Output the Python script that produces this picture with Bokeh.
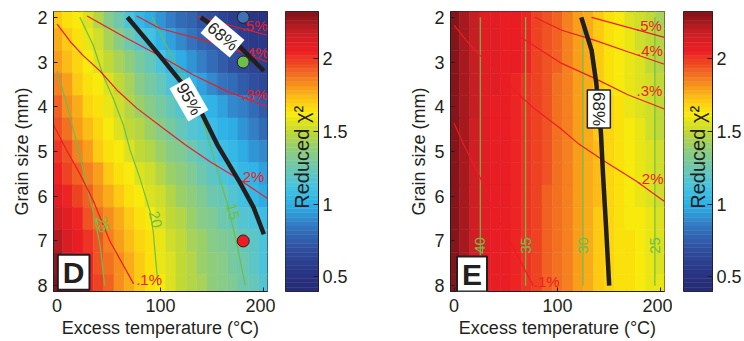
import numpy as np
from bokeh.plotting import figure
from bokeh.models import Range1d, ColumnDataSource, Label
from bokeh.transform import linear_cmap
from bokeh.layouts import row
from bokeh.embed import file_html
from bokeh.resources import INLINE
from bokeh.core.properties import value

# ---------------- data ----------------
TEMP = [0, 10, 20, 30, 40, 50, 60, 70, 80, 90, 100, 110, 120, 130, 140, 150, 160, 170, 180, 190, 200]
GRAIN = [2.0, 2.5, 3.0, 3.5, 4.0, 4.5, 5.0, 5.5, 6.0, 6.5, 7.0, 7.5, 8.0]

CHI2_D = [
    [1.70, 1.66, 1.61, 1.54, 1.45, 1.35, 1.24, 1.12, 1.04, 0.97, 0.91, 0.86, 0.81, 0.76, 0.71, 0.67, 0.63, 0.59, 0.56, 0.53, 0.50],
    [1.75, 1.70, 1.64, 1.58, 1.51, 1.43, 1.34, 1.25, 1.16, 1.09, 1.02, 0.95, 0.89, 0.84, 0.78, 0.73, 0.69, 0.65, 0.61, 0.58, 0.55],
    [1.80, 1.73, 1.67, 1.62, 1.56, 1.50, 1.44, 1.37, 1.29, 1.21, 1.13, 1.05, 0.98, 0.92, 0.86, 0.80, 0.75, 0.70, 0.66, 0.62, 0.59],
    [1.85, 1.78, 1.71, 1.65, 1.60, 1.54, 1.48, 1.42, 1.35, 1.28, 1.21, 1.14, 1.07, 1.01, 0.95, 0.90, 0.84, 0.79, 0.74, 0.70, 0.66],
    [1.90, 1.82, 1.75, 1.68, 1.63, 1.58, 1.52, 1.46, 1.40, 1.34, 1.28, 1.22, 1.16, 1.10, 1.05, 1.00, 0.95, 0.90, 0.85, 0.80, 0.75],
    [1.95, 1.87, 1.80, 1.73, 1.67, 1.62, 1.56, 1.50, 1.45, 1.40, 1.34, 1.29, 1.23, 1.17, 1.12, 1.07, 1.02, 0.97, 0.92, 0.87, 0.82],
    [2.00, 1.93, 1.86, 1.78, 1.71, 1.65, 1.60, 1.55, 1.50, 1.45, 1.40, 1.35, 1.30, 1.25, 1.19, 1.13, 1.08, 1.03, 0.98, 0.93, 0.88],
    [2.04, 1.98, 1.92, 1.85, 1.78, 1.71, 1.66, 1.61, 1.56, 1.51, 1.46, 1.41, 1.36, 1.31, 1.26, 1.20, 1.15, 1.10, 1.05, 1.00, 0.94],
    [2.08, 2.03, 1.97, 1.90, 1.83, 1.77, 1.71, 1.66, 1.61, 1.56, 1.51, 1.46, 1.41, 1.36, 1.31, 1.26, 1.21, 1.16, 1.11, 1.05, 0.98],
    [2.14, 2.08, 2.02, 1.95, 1.88, 1.82, 1.76, 1.70, 1.65, 1.60, 1.55, 1.50, 1.45, 1.40, 1.35, 1.31, 1.26, 1.22, 1.17, 1.12, 1.06],
    [2.20, 2.12, 2.06, 2.00, 1.93, 1.86, 1.80, 1.74, 1.68, 1.63, 1.58, 1.53, 1.48, 1.43, 1.39, 1.35, 1.31, 1.27, 1.23, 1.18, 1.12],
    [2.26, 2.16, 2.09, 2.02, 1.95, 1.88, 1.82, 1.76, 1.70, 1.64, 1.59, 1.54, 1.49, 1.45, 1.41, 1.37, 1.33, 1.29, 1.25, 1.20, 1.15],
    [2.30, 2.20, 2.11, 2.04, 1.97, 1.90, 1.83, 1.77, 1.71, 1.65, 1.60, 1.55, 1.50, 1.46, 1.42, 1.38, 1.34, 1.30, 1.26, 1.21, 1.16],
]

CHI2_E = [
    [2.32, 2.25, 2.18, 2.10, 2.08, 2.07, 2.05, 2.02, 1.98, 1.94, 1.90, 1.86, 1.80, 1.75, 1.70, 1.65, 1.60, 1.56, 1.52, 1.48, 1.44],
    [2.32, 2.25, 2.17, 2.10, 2.08, 2.07, 2.05, 2.02, 1.98, 1.94, 1.90, 1.85, 1.80, 1.75, 1.70, 1.65, 1.61, 1.57, 1.53, 1.49, 1.45],
    [2.31, 2.24, 2.17, 2.10, 2.08, 2.06, 2.05, 2.02, 1.98, 1.94, 1.90, 1.85, 1.80, 1.75, 1.70, 1.66, 1.62, 1.58, 1.54, 1.50, 1.47],
    [2.31, 2.24, 2.17, 2.10, 2.08, 2.06, 2.04, 2.01, 1.97, 1.93, 1.89, 1.85, 1.80, 1.75, 1.71, 1.66, 1.62, 1.58, 1.55, 1.51, 1.48],
    [2.31, 2.24, 2.17, 2.10, 2.07, 2.06, 2.04, 2.01, 1.97, 1.93, 1.89, 1.85, 1.80, 1.76, 1.71, 1.67, 1.63, 1.59, 1.56, 1.52, 1.49],
    [2.31, 2.24, 2.16, 2.10, 2.07, 2.06, 2.04, 2.01, 1.97, 1.93, 1.89, 1.84, 1.80, 1.76, 1.71, 1.67, 1.63, 1.60, 1.57, 1.53, 1.50],
    [2.30, 2.24, 2.16, 2.09, 2.07, 2.05, 2.04, 2.01, 1.97, 1.93, 1.89, 1.84, 1.80, 1.76, 1.72, 1.68, 1.64, 1.61, 1.58, 1.54, 1.51],
    [2.30, 2.24, 2.16, 2.09, 2.07, 2.05, 2.04, 2.01, 1.97, 1.93, 1.89, 1.84, 1.80, 1.76, 1.72, 1.68, 1.64, 1.61, 1.58, 1.55, 1.52],
    [2.30, 2.24, 2.16, 2.09, 2.07, 2.05, 2.03, 2.00, 1.96, 1.92, 1.88, 1.84, 1.80, 1.76, 1.72, 1.68, 1.65, 1.62, 1.59, 1.56, 1.53],
    [2.30, 2.24, 2.16, 2.09, 2.07, 2.05, 2.03, 2.00, 1.96, 1.92, 1.88, 1.84, 1.79, 1.75, 1.71, 1.68, 1.65, 1.62, 1.60, 1.57, 1.54],
    [2.30, 2.24, 2.16, 2.08, 2.06, 2.05, 2.03, 2.00, 1.96, 1.92, 1.88, 1.84, 1.79, 1.75, 1.71, 1.68, 1.65, 1.63, 1.60, 1.58, 1.55],
    [2.30, 2.24, 2.16, 2.08, 2.06, 2.05, 2.03, 2.00, 1.96, 1.92, 1.88, 1.84, 1.79, 1.75, 1.71, 1.68, 1.65, 1.63, 1.61, 1.58, 1.56],
    [2.30, 2.24, 2.16, 2.08, 2.06, 2.05, 2.03, 2.00, 1.96, 1.92, 1.88, 1.84, 1.79, 1.75, 1.71, 1.68, 1.65, 1.63, 1.61, 1.59, 1.57],
]

CB_LOW, CB_HIGH = 0.4, 2.32
CB_TICKS = [0.5, 1, 1.5, 2]
CB_TICK_LABELS = ["0.5", "1", "1.5", "2"]
X_TICKS = [0, 100, 200]
Y_TICKS = [2, 3, 4, 5, 6, 7, 8]

# ---- panel D contours ----
D_P1_T = [-3.5, 8, 22, 35, 51, 74];  D_P1_G = [4.40, 4.92, 5.50, 6.10, 7.00, 7.96]
D_P2_T = [0, 12.6, 25, 41.5, 58, 77, 102, 124, 148, 174, 203.5]
D_P2_G = [2.15, 2.54, 2.85, 3.20, 3.63, 4.03, 4.47, 4.85, 5.23, 5.59, 6.05]
D_P3_T = [29, 66, 104, 131, 164, 203.5];  D_P3_G = [1.97, 2.45, 2.92, 3.28, 3.65, 4.00]
D_P4_T = [77, 99.5, 148, 175, 203.5];     D_P4_G = [1.97, 2.25, 2.55, 2.75, 3.00]
D_P5_T = [135, 170, 203.5];               D_P5_G = [1.97, 2.20, 2.40]
D_PCT_T = [89, 188, 191, 192, 191];  D_PCT_G = [7.87, 5.56, 3.72, 2.78, 2.18]
D_PCT_TEXT = [".1%", ".2%", ".3%", ".4%", ".5%"]

D_G25_T = [0, 10, 20, 29, 35, 41.5, 46];  D_G25_G = [3.20, 4.00, 4.90, 5.80, 6.35, 7.08, 8.00]
D_G20_T = [22, 35, 44.6, 54, 64, 70.5, 80, 90, 93, 97.6]
D_G20_G = [2.00, 2.63, 3.30, 3.80, 4.40, 4.96, 5.59, 6.35, 6.80, 8.00]
D_G15_T = [92, 116, 138, 148, 157, 165, 174, 182]
D_G15_G = [2.00, 3.10, 4.08, 4.85, 5.59, 6.19, 7.08, 8.00]
D_GREEN_T = [44, 95, 170];  D_GREEN_G = [6.63, 6.52, 6.34];  D_GREEN_TEXT = ["25", "20", "15"]

D_C95_T = [68, 100, 120, 140, 155, 177, 190, 200]
D_C95_G = [2.00, 2.88, 3.45, 4.15, 4.85, 5.70, 6.25, 6.85]
D_C68_T = [139, 170, 200];  D_C68_G = [2.00, 2.50, 3.20]

D_PTS_T = [180, 180, 180];  D_PTS_G = [2, 3, 7]

# ---- panel E contours ----
E_P1_T = [0, 9.3, 25.3, 38.2, 60.6, 76.6];  E_P1_G = [4.37, 4.85, 5.59, 6.33, 7.30, 8.00]
E_P2_T = [0, 12.6, 25, 41.5, 58, 77, 102, 121, 147, 176, 203.5]
E_P2_G = [2.18, 2.54, 2.85, 3.20, 3.63, 4.03, 4.47, 4.84, 5.24, 5.66, 6.12]
E_P3_T = [28, 66, 104, 135.6, 168, 203.5];  E_P3_G = [2.00, 2.47, 3.03, 3.36, 3.73, 4.05]
E_P4_T = [78, 104, 135.6, 168, 203.5];      E_P4_G = [2.00, 2.29, 2.51, 2.77, 3.05]
E_P5_T = [133, 203.5];                      E_P5_G = [2.00, 2.45]
E_PCT_T = [89.5, 190, 189, 189.4, 188.5];  E_PCT_G = [7.90, 5.60, 3.64, 2.75, 2.18]
E_PCT_TEXT = [".1%", ".2%", ".3%", ".4%", ".5%"]

E_GREEN_T = [25.3, 69.2, 124.7, 194.2];  E_GREEN_TEXT = ["40", "35", "30", "25"]
E_GREEN_LABEL_G = 7.1
E_C68_T = [123, 133, 137.5, 142, 144, 147, 150]
E_C68_G = [2.00, 2.74, 3.47, 4.58, 5.50, 6.70, 8.00]

# ---------------- styles ----------------
FONT = "Liberation Sans"
INK = "#231f20"
RED = "#ed1c24"
GREEN = "#6cbf4b"
H = 341

ANCHOR_V = [0.40, 0.55, 0.70, 0.85, 1.00, 1.12, 1.25, 1.38, 1.50, 1.62, 1.72, 1.82, 1.93, 2.05, 2.18, 2.32]
ANCHOR_RGB = [(38, 42, 115), (42, 55, 135), (48, 80, 160), (52, 120, 192), (45, 178, 232),
              (70, 195, 225), (110, 200, 175), (145, 205, 120), (195, 218, 50), (250, 235, 10),
              (252, 195, 20), (246, 145, 30), (240, 90, 35), (236, 30, 36), (200, 30, 36), (125, 20, 25)]


def build_palette(n=64):
    step = (CB_HIGH - CB_LOW) / n
    centers = [CB_LOW + (i + 0.5) * step for i in range(n)]
    rgb = np.array(ANCHOR_RGB, dtype=float)
    out = []
    for v in centers:
        r = np.interp(v, ANCHOR_V, rgb[:, 0])
        g = np.interp(v, ANCHOR_V, rgb[:, 1])
        b = np.interp(v, ANCHOR_V, rgb[:, 2])
        out.append("#%02x%02x%02x" % (int(round(r)), int(round(g)), int(round(b))))
    return out


PALETTE = build_palette()


def style_axes(p):
    for ax in list(p.xaxis) + list(p.yaxis):
        ax.major_tick_in = 4
        ax.major_tick_out = 0
        ax.minor_tick_line_color = None
        ax.axis_line_color = INK
        ax.major_tick_line_color = INK
        ax.major_label_text_font = FONT
        ax.major_label_text_font_size = "18px"
        ax.major_label_text_color = INK
        ax.axis_label_text_font = FONT
        ax.axis_label_text_font_size = "18px"
        ax.axis_label_text_font_style = "normal"
        ax.axis_label_text_color = INK


def panel(chi2, width, left):
    p = figure(width=width, height=H, x_range=Range1d(-3.5, 203.5), y_range=Range1d(8.13, 1.87),
               output_backend="svg", toolbar_location=None,
               min_border_left=left, min_border_right=8, min_border_top=11, min_border_bottom=50)
    xs, ys, vs = [], [], []
    for j, g in enumerate(GRAIN):
        for i, t in enumerate(TEMP):
            xs.append(t); ys.append(g); vs.append(chi2[j][i])
    src = ColumnDataSource(dict(x=xs, y=ys, v=vs))
    cmap = linear_cmap("v", PALETTE, CB_LOW, CB_HIGH)
    p.rect("x", "y", width=TEMP[1] - TEMP[0], height=GRAIN[1] - GRAIN[0], source=src,
           fill_color=cmap, line_color=cmap, line_width=0.6)
    p.xaxis.ticker = X_TICKS
    p.yaxis.ticker = Y_TICKS
    p.xaxis.axis_label = "Excess temperature (°C)"
    p.yaxis.axis_label = "Grain size (mm)"
    style_axes(p)
    p.xaxis.major_label_standoff = 7
    p.xaxis.axis_label_standoff = 3
    p.yaxis.major_label_standoff = 6
    p.yaxis.axis_label_standoff = 2
    p.grid.visible = False
    p.outline_line_color = INK
    p.outline_line_alpha = 1
    p.background_fill_color = "white"
    return p


def colorbar(width, left, right):
    c = figure(width=width, height=H, x_range=Range1d(0, 1), y_range=Range1d(CB_LOW, CB_HIGH),
               x_axis_location=None, y_axis_location="right", output_backend="svg", toolbar_location=None,
               min_border_left=left, min_border_right=right, min_border_top=10, min_border_bottom=48)
    edges = np.linspace(CB_LOW, CB_HIGH, len(PALETTE) + 1)
    c.quad(left=0, right=1, bottom=edges[:-1], top=edges[1:], fill_color=PALETTE,
           line_color=PALETTE, line_width=0.5)
    c.yaxis.ticker = CB_TICKS
    c.yaxis.major_label_overrides = {t: s for t, s in zip(CB_TICKS, CB_TICK_LABELS)}
    style_axes(c)
    c.yaxis.major_tick_in = 5
    c.yaxis.major_label_standoff = 4
    c.grid.visible = False
    c.outline_line_color = INK
    c.add_layout(Label(x=0.5, y=1.32, text="Reduced χ²", angle=np.pi / 2, text_align="center",
                       text_baseline="middle", text_font=FONT, text_font_size="20px", text_color=INK))
    return c


def red_lines(p, pairs):
    for t, g in pairs:
        p.line(t, g, line_color=RED, line_width=1.2)


# ---------------- panel D ----------------
pD = panel(CHI2_D, 275, 53)
for t, g in [(D_G25_T, D_G25_G), (D_G20_T, D_G20_G), (D_G15_T, D_G15_G)]:
    pD.line(t, g, line_color=GREEN, line_width=1.2)
red_lines(pD, [(D_P1_T, D_P1_G), (D_P2_T, D_P2_G), (D_P3_T, D_P3_G), (D_P4_T, D_P4_G), (D_P5_T, D_P5_G)])
pD.text(x=D_PCT_T, y=D_PCT_G, text=D_PCT_TEXT, text_color=RED, text_font=value(FONT),
        text_font_size="15px", text_align="center", text_baseline="middle")
pD.text(x=D_GREEN_T, y=D_GREEN_G, text=D_GREEN_TEXT, angle=[-1.33] * 3, text_color=GREEN,
        text_font=value(FONT), text_font_size="15px", text_align="center", text_baseline="middle")
pD.line(D_C95_T, D_C95_G, line_color=INK, line_width=4.5)
pD.line(D_C68_T, D_C68_G, line_color=INK, line_width=4.5)
pD.scatter(D_PTS_T, D_PTS_G, size=12, fill_color=["#3f72b5", "#6cbf4b", RED], line_color=INK, line_width=1)
pD.add_layout(Label(x=127.5, y=3.83, text="95%", angle=-1.05, text_align="center", text_baseline="middle",
                    text_font=FONT, text_font_size="17px", text_color=INK,
                    background_fill_color="white", padding=2))
pD.add_layout(Label(x=160, y=2.43, text="68%", angle=-0.70, text_align="center", text_baseline="middle",
                    text_font=FONT, text_font_size="17px", text_color=INK,
                    background_fill_color="white", padding=2))
pD.add_layout(Label(x=16, y=7.7, text="D", text_align="center", text_baseline="middle",
                    text_font=FONT, text_font_size="30px", text_font_style="bold", text_color=INK,
                    background_fill_color="white", border_line_color=INK, border_line_width=2,
                    padding=dict(x=5, y=1)))

cD = colorbar(130, 10, 87)

# ---------------- panel E ----------------
pE = panel(CHI2_E, 267, 45)
pE.segment(x0=E_GREEN_T, y0=[GRAIN[0]] * 4, x1=E_GREEN_T, y1=[GRAIN[-1]] * 4,
           line_color=GREEN, line_width=1.2)
red_lines(pE, [(E_P1_T, E_P1_G), (E_P2_T, E_P2_G), (E_P3_T, E_P3_G), (E_P4_T, E_P4_G), (E_P5_T, E_P5_G)])
pE.text(x=E_PCT_T, y=E_PCT_G, text=E_PCT_TEXT, text_color=RED, text_font=value(FONT),
        text_font_size="15px", text_align="center", text_baseline="middle")
pE.text(x=E_GREEN_T, y=[E_GREEN_LABEL_G] * 4, text=E_GREEN_TEXT, angle=[np.pi / 2] * 4, text_color=GREEN,
        text_font=value(FONT), text_font_size="15px", text_align="center", text_baseline="alphabetic")
pE.line(E_C68_T, E_C68_G, line_color=INK, line_width=4.5)
pE.add_layout(Label(x=140, y=4.05, text="68%", angle=-np.pi / 2, text_align="center", text_baseline="middle",
                    text_font=FONT, text_font_size="17px", text_color=INK,
                    background_fill_color="white", border_line_color=INK, border_line_width=1.5, padding=2))
pE.add_layout(Label(x=17.3, y=7.74, text="E", text_align="center", text_baseline="middle",
                    text_font=FONT, text_font_size="30px", text_font_style="bold", text_color=INK,
                    background_fill_color="white", border_line_color=INK, border_line_width=2,
                    padding=dict(x=5, y=1)))

cE = colorbar(72, 11, 30)

layout = row(pD, cD, pE, cE, spacing=0)
open("out.html", "w").write(file_html(layout, INLINE))
